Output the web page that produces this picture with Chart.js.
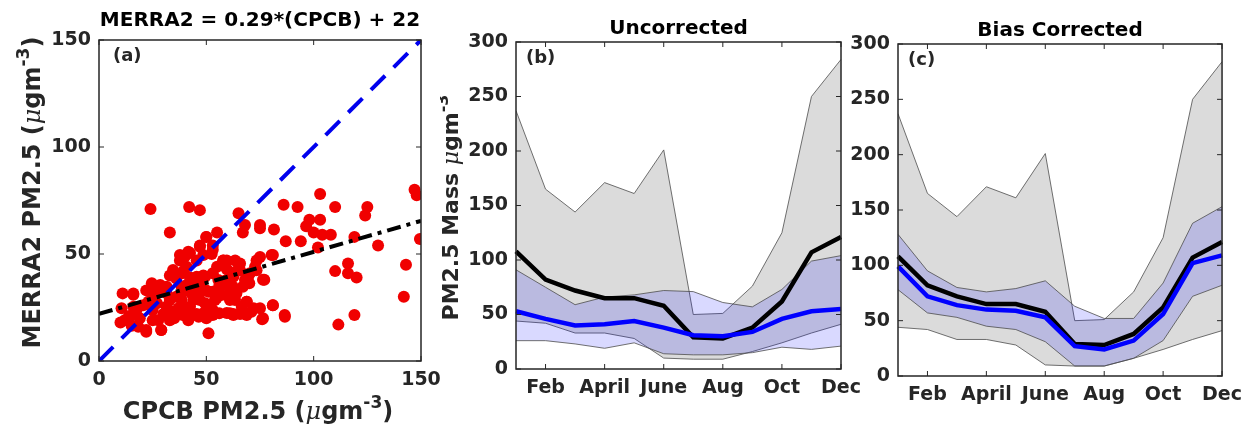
<!DOCTYPE html>
<html>
<head>
<meta charset="utf-8">
<script src="https://cdn.jsdelivr.net/npm/chart.js@4.4.1/dist/chart.umd.min.js"></script>
<style>
  html, body { margin: 0; padding: 0; background: #fff; }
  #wrap { position: relative; width: 1250px; height: 427px; overflow: hidden; }
  canvas { position: absolute; top: 0; }
</style>
</head>
<body>
<div id="wrap">
  <canvas id="chartA" width="450" height="427" style="left:0px"></canvas>
  <canvas id="chartB" width="430" height="427" style="left:440px"></canvas>
  <canvas id="chartC" width="410" height="427" style="left:840px"></canvas>
</div>
<script>
// ---- data ----
const months = ['Jan','Feb','Mar','April','May','June','July','Aug','Sep','Oct','Nov','Dec'];
const monthTicks = ['Feb','April','June','Aug','Oct','Dec'];
const scatterTicks = [0, 50, 100, 150];
const massTicks = [0, 50, 100, 150, 200, 250, 300];

// CPCB observations (grey band + black mean)
const cpcbUpper = [237,165,144,171,161,201,50,51,76,125,250,284];
const cpcbLower = [44,42,33,33,28,10,9,9,16,24,33,41];
const cpcbMean  = [108,82,72,65,65,58,29,28,38,62,107,121];
// MERRA2 uncorrected (blue band + blue mean)
const merraUpper = [91,75,59,66,68,72,71,61,57,73,99,104];
const merraLower = [26,26,23,19,24,14,13,13,15,20,18,21];
const merraMean  = [53,46,40,41,44,38,31,30,34,46,53,55];
// MERRA2 bias corrected
const corrUpper = [128,95,80,76,79,86,63,52,52,84,138,153];
const corrLower = [78,57,53,45,42,31,9,9,16,32,72,82];
const corrMean  = [99,72,64,60,59,53,27,24,32,56,102,109];

// scatter: CPCB (x) vs MERRA2 (y)
const cpcbPts = [24,42,47,33,50,55,65,68,67,75,75,81.5,86,87,92.5,94,96.5,98,100,103,103,104,108,110,102,125,124,130,147,148,149.5,143,142,116,116,120,110,119,111.5,119,86.5,81,81,77,76,
  11,16,10.5,10,13.7,17,19,22,22,25,27,29,30,31.5,33,34.6,35,37.7,38.5,40,40.8,41.6,42.4,44,45.5,47,47,48.6,49.4,50,51,52.5,53,54,55,56,58,59.5,61,62.6,64,65.7,67,68.8,69.5,71,72.7,73.4,75,31.5,
  20.6,23,25,27.6,31.5,34,37,39,41.6,43,44.8,46.4,47.8,49.4,51,51.7,53,55.6,57,58.7,59.5,61,63.4,64,66.5,72,68,65.7,39.3,36,45.5,38.5,27.6,28.5,24.6,16,15.2,18.3,25,41.6,46.4,48.6,53,56,40,48.6,53,40.8,59.5,62.6,70,63.4,61,66.5,68.8,
  25,37.7,42.4,47,50,53,57.8,65.7,75,76.4,80.4,81,86.6,76.4,68.8,62.6,59.5,42.4,39,33,29,22,16,17.5,12,14,31.5,36,40.8,45.5,48.6,50,54.8,47,42.4,53,34.5,33,38.7,62.4,70.3,73.4];
const merraPts = [71,72,70.5,60,58,60,69,63.5,60,63.5,62,61.5,73,56,72,56,63,66,60,78,66,59,59,72,53,72,68,54,80,77.5,57,45,30,45.6,41,39,42,21.5,17,58,21.5,26,49.5,38,19.5,
  31.6,31,24.6,18,19,22,20,13.7,33,31.6,27,14.5,22,34.7,28.5,41,20,47,28.5,33,20.7,51,39,28.5,22,53.4,39,33,27,20,13,50,41,28.5,44,35,47,38,28.5,22,42,22,34.7,27.7,39.4,23,44,47,24.6,31.6,
  26,27.7,23.8,19,25.4,23,24.6,21.5,24.6,31.6,35.5,31.6,37,39.4,32.4,24.6,32.4,37.9,30.8,35.5,43,31.6,28.5,31.6,25.4,24.6,37.9,42.4,42,38.6,47,34.7,32.4,35.5,36.3,25.4,16.5,16,19,19,20.7,22.3,21.5,22.3,48.8,49.5,54,44,47,39.4,36.3,47,22.3,22.3,21.5,
  33,49.5,50.5,54,58,52,47,45.6,48.6,38,49.5,26,20.7,20,27.7,21.5,22.4,20.7,23.8,19,14.5,14.5,31.6,24,19,21,25.4,30,35.5,39.4,40,33,29.4,28.5,25.4,23.8,42.5,40,41,34.7,41,42.4];
const fitSlope = 0.29, fitIntercept = 22;

// ---- styling helpers ----
const FONT = "'DejaVu Sans'";
const INK = '#262626';

function unitParts(prefix, size, closeParen) {
  const b = 'bold ' + size + 'px ' + FONT;
  const parts = [
    { text: prefix, font: b },
    { text: 'μ', font: 'italic ' + size + "px 'DejaVu Serif'" },
    { text: 'gm', font: b },
    { text: '-3', font: 'bold ' + Math.round(size * 0.72) + 'px ' + FONT, dy: -size * 0.45 }
  ];
  if (closeParen) parts.push({ text: ')', font: b });
  return parts;
}

function drawRich(ctx, parts, x, y, rot) {
  ctx.save();
  ctx.translate(x, y);
  ctx.rotate(rot || 0);
  ctx.textAlign = 'left';
  ctx.textBaseline = 'alphabetic';
  ctx.fillStyle = INK;
  let w = 0;
  parts.forEach(p => { ctx.font = p.font; w += ctx.measureText(p.text).width; });
  let cx = -w / 2;
  parts.forEach(p => {
    ctx.font = p.font;
    ctx.fillText(p.text, cx, p.dy || 0);
    cx += ctx.measureText(p.text).width;
  });
  ctx.restore();
}

// box, inner ticks, titles and panel letters
const panelDeco = {
  id: 'panelDeco',
  afterDraw(chart, args, o) {
    const { ctx, chartArea: a } = chart;
    const sx = chart.scales.x, sy = chart.scales.y;
    ctx.save();
    ctx.strokeStyle = INK;
    ctx.lineWidth = 1;
    ctx.beginPath();
    sx.ticks.forEach((t, i) => {
      if (t.label === '') return;
      const px = sx.getPixelForTick(i);
      ctx.moveTo(px, a.bottom); ctx.lineTo(px, a.bottom - 5);
      ctx.moveTo(px, a.top); ctx.lineTo(px, a.top + 5);
    });
    sy.ticks.forEach((t, i) => {
      const py = sy.getPixelForTick(i);
      ctx.moveTo(a.left, py); ctx.lineTo(a.left + 5, py);
      ctx.moveTo(a.right, py); ctx.lineTo(a.right - 5, py);
    });
    ctx.stroke();
    ctx.lineWidth = 1.5;
    ctx.strokeRect(a.left, a.top, a.right - a.left, a.bottom - a.top);

    ctx.fillStyle = INK;
    ctx.textBaseline = 'middle';
    ctx.textAlign = 'left';
    ctx.font = 'bold 18px ' + FONT;
    ctx.fillText(o.letter, a.left + o.letterDx, a.top + 16);

    ctx.textAlign = 'center';
    ctx.font = 'bold 20px ' + FONT;
    ctx.fillStyle = '#000';
    ctx.fillText(o.title, (a.left + a.right) / 2, a.top + o.titleDy);
    ctx.restore();

    if (o.yTitle) drawRich(ctx, o.yTitle, a.left + o.yTitleDx, (a.top + a.bottom) / 2 + o.yTitleDy, -Math.PI / 2);
    if (o.xTitle) drawRich(ctx, o.xTitle, (a.left + a.right) / 2 + o.xTitleDx, a.bottom + o.xTitleDy, 0);
  }
};
Chart.register(panelDeco);

function frameScales(area, canvasH, xOpts, yOpts) {
  const tickFont = { family: FONT, size: 19, weight: 'bold' };
  return {
    x: Object.assign({
      grid: { display: false, drawTicks: false },
      border: { display: false },
      ticks: { color: INK, font: tickFont, padding: 8, maxRotation: 0, autoSkip: false },
      afterFit: s => { s.height = canvasH - area.bottom; }
    }, xOpts),
    y: Object.assign({
      grid: { display: false, drawTicks: false },
      border: { display: false },
      ticks: { color: INK, font: tickFont, padding: 8 },
      afterFit: s => { s.width = area.left; }
    }, yOpts)
  };
}

// ---- panel (a): scatter ----
(function () {
  const cv = document.getElementById('chartA');
  const area = { left: 99, right: 421, top: 40, bottom: 361 };
  const points = cpcbPts.map((x, i) => ({ x: x, y: merraPts[i] }));
  new Chart(cv, {
    type: 'scatter',
    data: {
      datasets: [
        { data: points, backgroundColor: 'rgb(240,0,0)', borderWidth: 0, pointRadius: 6, order: 3 },
        { type: 'line', data: [{ x: 0, y: 0 }, { x: 150, y: 150 }], borderColor: '#0000ee', borderWidth: 4,
          borderDash: [20, 12], pointRadius: 0, fill: false, order: 2 },
        { type: 'line', data: [{ x: 0, y: fitIntercept }, { x: 150, y: fitIntercept + fitSlope * 150 }],
          borderColor: '#000', borderWidth: 4, borderDash: [14, 6, 4, 6], pointRadius: 0, fill: false, order: 1 }
      ]
    },
    options: {
      responsive: false, animation: false, devicePixelRatio: 1,
      layout: { padding: { top: area.top, right: cv.width - area.right, left: 0, bottom: 0 } },
      plugins: {
        legend: { display: false }, tooltip: { enabled: false },
        panelDeco: {
          letter: '(a)', letterDx: 14, title: 'MERRA2 = 0.29*(CPCB) + 22', titleDy: -19,
          yTitle: unitParts('MERRA2 PM2.5 (', 24, true), yTitleDx: -59, yTitleDy: -8,
          xTitle: unitParts('CPCB PM2.5 (', 24, true), xTitleDx: -2, xTitleDy: 58
        }
      },
      scales: frameScales(area, cv.height,
        { type: 'linear', min: 0, max: 150, afterBuildTicks: s => { s.ticks = scatterTicks.map(v => ({ value: v })); } },
        { type: 'linear', min: 0, max: 150, afterBuildTicks: s => { s.ticks = scatterTicks.map(v => ({ value: v })); } })
    }
  });
})();

// ---- panels (b) and (c): monthly bands ----
function bandChart(id, area, bandUp, bandLow, bandMean, deco) {
  const cv = document.getElementById(id);
  const edge = '#4d4d4d';
  new Chart(cv, {
    type: 'line',
    data: {
      labels: months,
      datasets: [
        { data: cpcbUpper, borderColor: edge, borderWidth: 0.8, backgroundColor: 'rgb(219,219,219)', fill: '+1', pointRadius: 0, order: 6 },
        { data: cpcbLower, borderColor: edge, borderWidth: 0.8, fill: false, pointRadius: 0, order: 5 },
        { data: bandUp, borderColor: edge, borderWidth: 0.8, backgroundColor: 'rgba(0,0,255,0.15)', fill: '+1', pointRadius: 0, order: 4 },
        { data: bandLow, borderColor: edge, borderWidth: 0.8, fill: false, pointRadius: 0, order: 3 },
        { data: cpcbMean, borderColor: '#000', borderWidth: 4.5, fill: false, pointRadius: 0, order: 2 },
        { data: bandMean, borderColor: '#0000ff', borderWidth: 4.5, fill: false, pointRadius: 0, order: 1 }
      ]
    },
    options: {
      responsive: false, animation: false, devicePixelRatio: 1,
      layout: { padding: { top: area.top, right: cv.width - area.right, left: 0, bottom: 0 } },
      plugins: { legend: { display: false }, tooltip: { enabled: false }, panelDeco: deco },
      scales: frameScales(area, cv.height,
        { type: 'category', offset: false,
          ticks: { color: INK, font: { family: FONT, size: 19, weight: 'bold' }, padding: 8, maxRotation: 0, autoSkip: false,
                   callback: (v, i) => monthTicks.includes(months[i]) ? months[i] : '' } },
        { type: 'linear', min: 0, max: 300, afterBuildTicks: s => { s.ticks = massTicks.map(v => ({ value: v })); } })
    }
  });
}

bandChart('chartB', { left: 76, right: 401, top: 42, bottom: 369 }, merraUpper, merraLower, merraMean,
  { letter: '(b)', letterDx: 10, title: 'Uncorrected', titleDy: -13,
    yTitle: unitParts('PM2.5 Mass ', 22, false), yTitleDx: -58, yTitleDy: 2 });
bandChart('chartC', { left: 58, right: 389, top: 44, bottom: 376 }, corrUpper, corrLower, corrMean,
  { letter: '(c)', letterDx: 10, title: 'Bias Corrected', titleDy: -13 });
</script>
</body>
</html>
